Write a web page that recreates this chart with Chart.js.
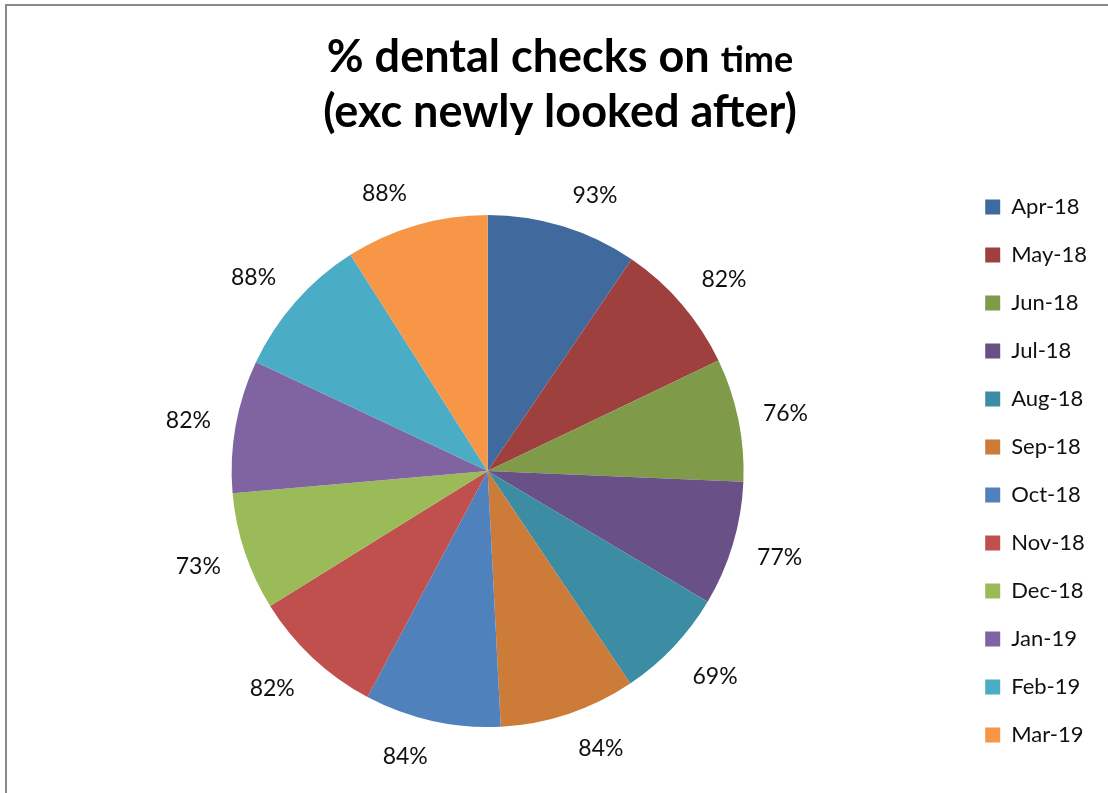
<!DOCTYPE html>
<html>
<head>
<meta charset="utf-8">
<script src="https://cdn.jsdelivr.net/npm/chart.js@4/dist/chart.umd.min.js"></script>
<style>
  html, body { margin: 0; padding: 0; background: #fff; }
  #frame { position: absolute; left: 5px; top: 4px; width: 1200px; height: 900px;
           border-left: 2px solid #8a8a8a; border-top: 2px solid #8a8a8a; }
  #wrap { position: absolute; left: 0; top: 0; width: 1108px; height: 793px; }
</style>
</head>
<body>
<div id="frame"></div>
<div id="wrap"><canvas id="pieChart"></canvas></div>
<script>
const months = ['Apr-18', 'May-18', 'Jun-18', 'Jul-18', 'Aug-18', 'Sep-18',
                'Oct-18', 'Nov-18', 'Dec-18', 'Jan-19', 'Feb-19', 'Mar-19'];
const onTime = [93, 82, 76, 77, 69, 84, 84, 82, 73, 82, 88, 88];
const sliceColors = ['#406A9D', '#9E413E', '#7F9A48', '#695086', '#3C8DA3', '#CC7B38',
                     '#4F81BD', '#C0504D', '#9BBB59', '#8064A2', '#4BACC6', '#F79646'];
const titleLine1 = ['% dental checks on ', 'time'];
const titleLine2 = '(exc newly looked after)';

const fontFamily = 'Lato, "Liberation Sans", sans-serif';

function clamp1(v) {
    return Math.max(-1, Math.min(1, v));
}

// labels outside each slice, like excel "outside end"
const outsideLabels = {
    id: 'outsideLabels',
    afterDatasetsDraw(chart) {
        const ctx = chart.ctx;
        const arcs = chart.getDatasetMeta(0).data;
        ctx.save();
        ctx.font = '23px ' + fontFamily;
        ctx.fillStyle = '#111';
        ctx.textAlign = 'center';
        ctx.textBaseline = 'middle';
        arcs.forEach((arc, i) => {
            const p = arc.getProps(['x', 'y', 'startAngle', 'endAngle', 'outerRadius'], true);
            const mid = (p.startAngle + p.endAngle) / 2;
            const txt = onTime[i] + '%';
            const w = ctx.measureText(txt).width;
            const ux = Math.cos(mid), uy = Math.sin(mid);
            const d = p.outerRadius + 22;
            // text box sits beside the anchor point
            const x = p.x + ux * d + clamp1(ux * 4) * (w / 2 + 3);
            const y = p.y + uy * d + clamp1(uy * 1.6) * 12 + 2;
            ctx.fillText(txt, x, y);
        });
        ctx.restore();
    }
};

// title with the smaller "time" word
const twoSizeTitle = {
    id: 'twoSizeTitle',
    afterDraw(chart) {
        const ctx = chart.ctx;
        const cx = 560;
        ctx.save();
        ctx.fillStyle = '#000';
        ctx.textBaseline = 'alphabetic';
        ctx.textAlign = 'left';
        const bigFont = 'bold 45px ' + fontFamily;
        const smallFont = 'bold 36px ' + fontFamily;
        ctx.font = bigFont;
        const w1 = ctx.measureText(titleLine1[0]).width;
        ctx.font = smallFont;
        const w2 = ctx.measureText(titleLine1[1]).width;
        let x = cx - (w1 + w2) / 2;
        ctx.font = bigFont;
        ctx.fillText(titleLine1[0], x, 72);
        ctx.font = smallFont;
        ctx.fillText(titleLine1[1], x + w1, 72);
        ctx.font = bigFont;
        ctx.textAlign = 'center';
        ctx.fillText(titleLine2, cx, 127);
        ctx.restore();
    }
};

const pie = document.getElementById('pieChart');

new Chart(pie, {
    type: 'pie',
    data: {
        labels: months,
        datasets: [{
            data: onTime,
            backgroundColor: sliceColors,
            borderWidth: 0,
            radius: 256
        }]
    },
    options: {
        responsive: true,
        maintainAspectRatio: false,
        animation: false,
        layout: {
            padding: { top: 166, bottom: 17, left: 16, right: 11 }
        },
        plugins: {
            title: { display: false },
            tooltip: { enabled: false },
            legend: {
                position: 'right',
                labels: {
                    boxWidth: 15,
                    boxHeight: 15,
                    padding: 26,
                    color: '#111',
                    font: { family: fontFamily, size: 22 }
                }
            }
        }
    },
    plugins: [outsideLabels, twoSizeTitle]
});
</script>
</body>
</html>
